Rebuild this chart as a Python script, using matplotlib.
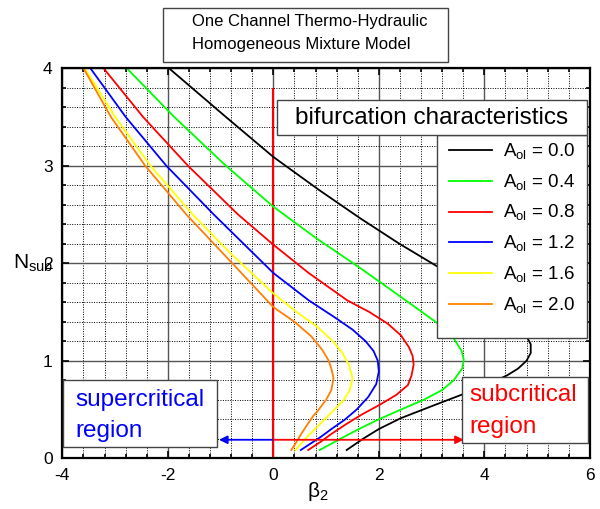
import matplotlib
matplotlib.use("Agg")
import matplotlib.pyplot as plt
from matplotlib.patches import Rectangle
from matplotlib.ticker import MultipleLocator

plt.rcParams['font.family'] = ['Liberation Sans', 'DejaVu Sans']
plt.rcParams['mathtext.fontset'] = 'custom'
plt.rcParams['mathtext.rm'] = 'Liberation Sans'
plt.rcParams['axes.unicode_minus'] = False

# bifurcation curves, (beta_2, N_sub)
a_ol = ["0.0", "0.4", "0.8", "1.2", "1.6", "2.0"]
colors = ["black", "#00ff00", "#ff0000", "#0000ff", "#ffff00", "#ff8000"]

n_00 = [4.0, 3.5, 3.09, 2.75, 2.46, 2.2, 1.97, 1.75, 1.55, 1.4, 1.27, 1.17, 1.08, 1.0, 0.92, 0.85, 0.75, 0.65, 0.53, 0.41, 0.3, 0.2, 0.085]
b_00 = [-1.98, -0.9, 0.0, 0.87, 1.65, 2.39, 3.1, 3.7, 4.2, 4.55, 4.78, 4.88, 4.88, 4.8, 4.64, 4.43, 4.03, 3.56, 2.98, 2.41, 2.0, 1.7, 1.39]

n_04 = [4.0, 3.5, 3.0, 2.58, 2.25, 1.95, 1.65, 1.39, 1.23, 1.1, 1.01, 0.92, 0.8, 0.7, 0.6, 0.5, 0.4, 0.3, 0.2, 0.085]
b_04 = [-2.78, -1.88, -0.9, 0.0, 0.83, 1.65, 2.43, 3.1, 3.42, 3.57, 3.61, 3.58, 3.42, 3.2, 2.85, 2.42, 2.0, 1.62, 1.27, 0.88]

n_08 = [4.0, 3.5, 3.0, 2.5, 2.19, 1.9, 1.62, 1.5, 1.38, 1.26, 1.14, 1.05, 0.96, 0.85, 0.75, 0.65, 0.55, 0.45, 0.35, 0.25, 0.17, 0.085]
b_08 = [-3.22, -2.47, -1.62, -0.67, 0.0, 0.67, 1.4, 1.82, 2.17, 2.42, 2.57, 2.64, 2.66, 2.62, 2.55, 2.33, 2.02, 1.68, 1.38, 1.1, 0.9, 0.66]

n_12 = [4.0, 3.5, 3.0, 2.5, 1.9, 1.62, 1.45, 1.32, 1.2, 1.1, 1.0, 0.89, 0.76, 0.63, 0.5, 0.39, 0.3, 0.22, 0.085]
b_12 = [-3.47, -2.8, -2.03, -1.13, 0.0, 0.67, 1.15, 1.5, 1.75, 1.9, 1.98, 2.0, 1.95, 1.8, 1.58, 1.34, 1.1, 0.9, 0.52]

n_16 = [4.0, 3.5, 3.0, 2.5, 2.1, 1.69, 1.5, 1.35, 1.2, 1.08, 0.95, 0.82, 0.7, 0.6, 0.48, 0.36, 0.22, 0.085]
b_16 = [-3.58, -3.0, -2.33, -1.53, -0.81, 0.0, 0.44, 0.83, 1.13, 1.31, 1.44, 1.5, 1.45, 1.34, 1.12, 0.9, 0.64, 0.42]

n_20 = [4.0, 3.5, 3.0, 2.5, 2.0, 1.55, 1.4, 1.25, 1.11, 1.0, 0.9, 0.82, 0.7, 0.6, 0.5, 0.43, 0.35, 0.26, 0.17, 0.085]
b_20 = [-3.6, -3.08, -2.43, -1.65, -0.78, 0.0, 0.4, 0.72, 0.93, 1.05, 1.11, 1.14, 1.1, 1.0, 0.86, 0.75, 0.65, 0.54, 0.44, 0.34]

curves = [(b_00, n_00), (b_04, n_04), (b_08, n_08), (b_12, n_12), (b_16, n_16), (b_20, n_20)]

# marker lines / arrows
vline_x = 0.0
vline_top = 3.79
arrow_y = 0.19
arrow_left = -1.03
arrow_right = 3.61

fig = plt.figure(figsize=(6.0, 5.09), dpi=100)
ax = fig.add_axes([0.104, 0.0996, 0.879, 0.7664])

ax.set_xlim(-4, 6)
ax.set_ylim(0, 4)
ax.xaxis.set_major_locator(MultipleLocator(2))
ax.xaxis.set_minor_locator(MultipleLocator(0.4))
ax.yaxis.set_major_locator(MultipleLocator(1))
ax.yaxis.set_minor_locator(MultipleLocator(0.2))
ax.grid(which='major', color='#555555', lw=1.0, ls='-')
ax.grid(which='minor', color='black', lw=0.7, ls=(0, (1, 1.5)))
ax.set_axisbelow(True)
ax.tick_params(which='both', direction='in', top=True, right=True, labelsize=12.5, width=1.2)
ax.tick_params(which='major', length=5, pad=7)
ax.tick_params(which='minor', length=3)
for s in ax.spines.values():
    s.set_linewidth(1.6)

for (b, n), lab, c in zip(curves, a_ol, colors):
    ax.plot(b, n, color=c, lw=1.3, label=r'A$_{\rm ol}$ = ' + lab)

ax.plot([vline_x, vline_x], [0, vline_top], color='#ff0000', lw=1.5, zorder=1.5)

ax.annotate('', xy=(arrow_left, arrow_y), xytext=(vline_x, arrow_y),
            arrowprops=dict(arrowstyle='-|>', color='#0000ff', lw=1.3, mutation_scale=12, shrinkA=0, shrinkB=0))
ax.annotate('', xy=(arrow_right, arrow_y), xytext=(vline_x, arrow_y),
            arrowprops=dict(arrowstyle='-|>', color='#ff0000', lw=1.3, mutation_scale=12, shrinkA=0, shrinkB=0))

# labels
ax.set_ylabel(r'N$_{\rm sub}$', rotation=0, fontsize=15, ha='left', va='center')
ax.yaxis.set_label_coords(-0.094, 0.50)
ax.set_xlabel(r'β$_{\rm 2}$', fontsize=15, va='center')
ax.xaxis.set_label_coords(0.485, -0.085)


# boxes
def box(x0, y0, x1, y1, trans, z=5):
    r = Rectangle((x0, y0), x1 - x0, y1 - y0, transform=trans, facecolor='white',
                  edgecolor='#444444', lw=1.0, zorder=z, clip_on=False)
    (ax if trans is ax.transAxes else fig).add_artist(r)


# legend panel
box(0.710, 0.308, 0.994, 0.829, ax.transAxes)
leg = ax.legend(loc='upper left', bbox_to_anchor=(0.721, 0.829), borderaxespad=0,
                fontsize=13.5, frameon=False, handlelength=2.3, labelspacing=0.56,
                borderpad=0.35, handletextpad=0.55)
leg.set_zorder(6)

box(0.407, 0.829, 0.994, 0.919, ax.transAxes)
ax.text(0.70, 0.872, 'bifurcation characteristics', transform=ax.transAxes, fontsize=17.5,
        ha='center', va='center', zorder=6)

box(0.001, 0.029, 0.293, 0.200, ax.transAxes)
ax.text(0.024, 0.15, 'supercritical', transform=ax.transAxes, fontsize=17.5, color='#0000ff',
        ha='left', va='center', zorder=6)
ax.text(0.024, 0.070, 'region', transform=ax.transAxes, fontsize=17.5, color='#0000ff',
        ha='left', va='center', zorder=6)

box(0.757, 0.039, 0.997, 0.209, ax.transAxes)
ax.text(0.772, 0.162, 'subcritical', transform=ax.transAxes, fontsize=17.5, color='#ff0000',
        ha='left', va='center', zorder=6)
ax.text(0.772, 0.080, 'region', transform=ax.transAxes, fontsize=17.5, color='#ff0000',
        ha='left', va='center', zorder=6)

# title box in figure fraction
box(0.272, 0.878, 0.747, 0.984, fig.transFigure)
fig.text(0.32, 0.957, 'One Channel Thermo-Hydraulic', fontsize=12, ha='left', va='center', zorder=6)
fig.text(0.32, 0.912, 'Homogeneous Mixture Model', fontsize=12, ha='left', va='center', zorder=6)

fig.savefig('out.png', dpi=100)
